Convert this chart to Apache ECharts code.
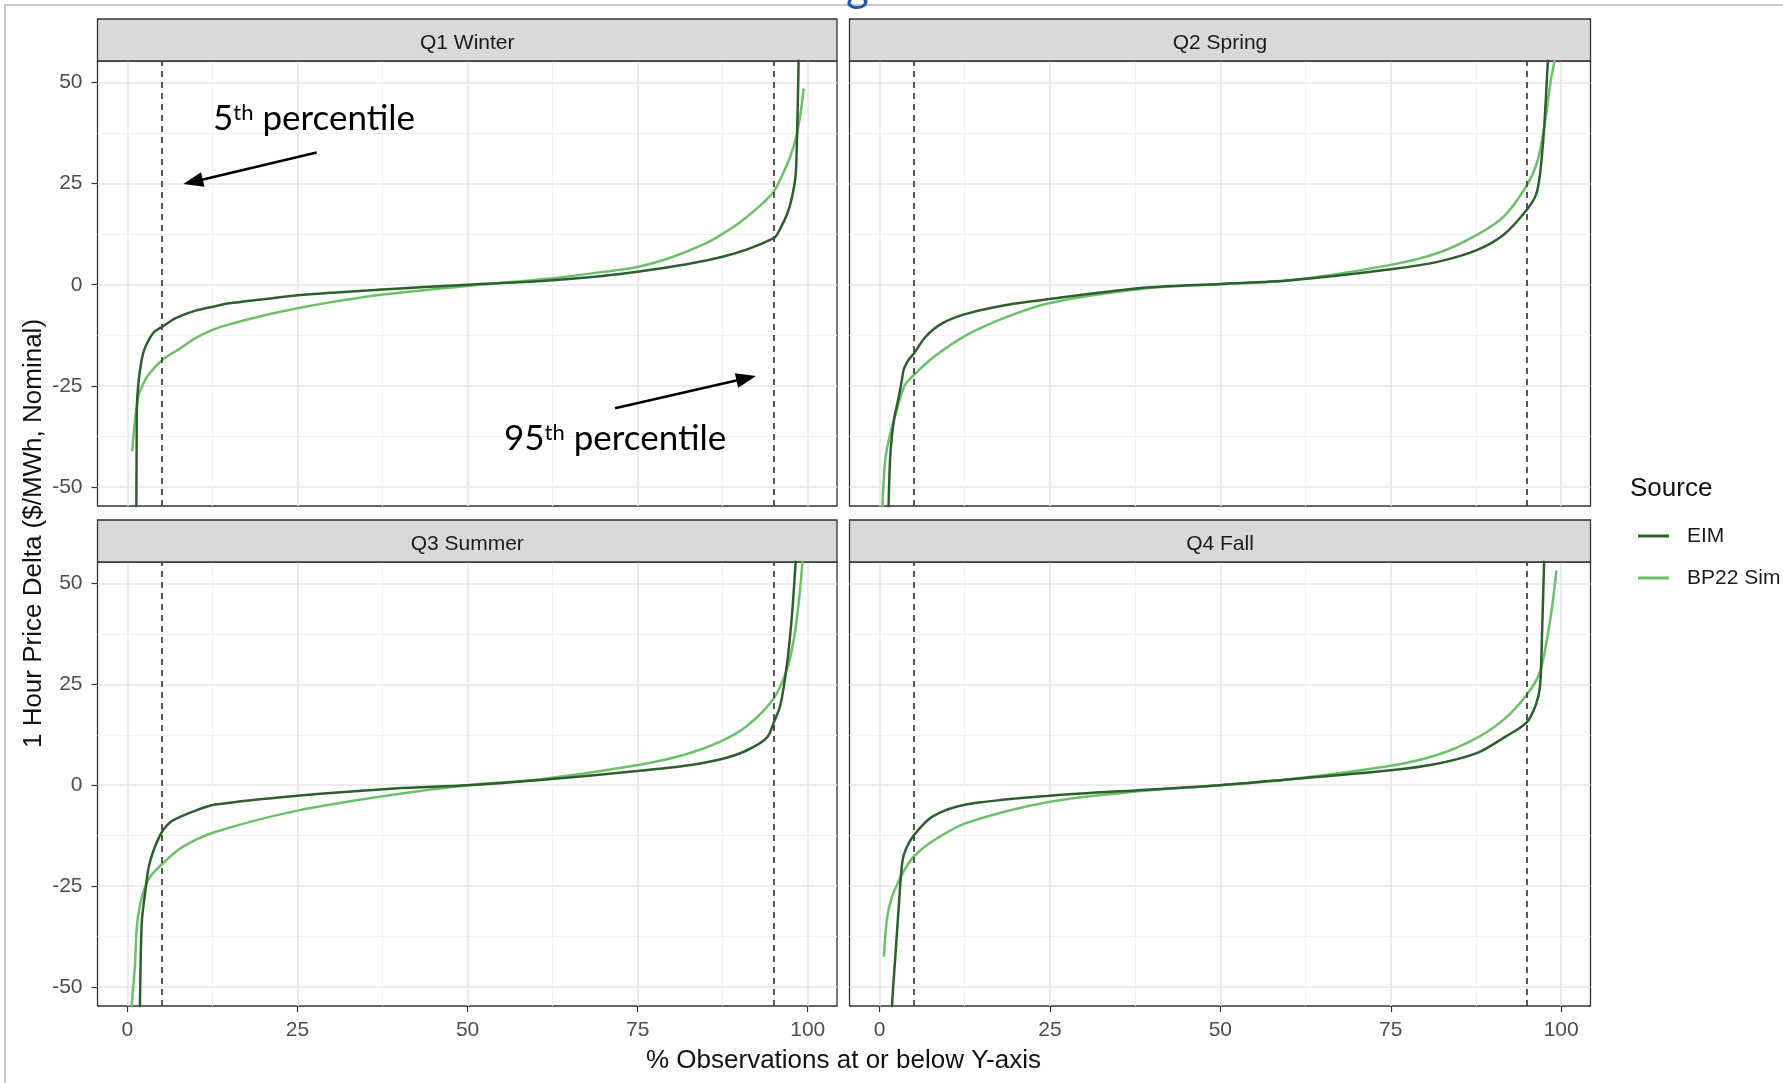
<!DOCTYPE html>
<html><head><meta charset="utf-8">
<script src="https://cdn.jsdelivr.net/npm/echarts@6/dist/echarts.min.js"></script>
<style>html,body{margin:0;padding:0;background:#fff;}#c{width:1783px;height:1083px;}</style>
</head><body><div id="c"></div>
<script>
// ---------- data ----------
const panels = ['Q1 Winter', 'Q2 Spring', 'Q3 Summer', 'Q4 Fall'];
const sources = ['EIM', 'BP22 Sim'];
const xMajorTicks = [0, 25, 50, 75, 100];
const xMinorTicks = [12.5, 37.5, 62.5, 87.5];
const yMajorTicks = [-50, -25, 0, 25, 50];
const yMinorTicks = [-37.5, -12.5, 12.5, 37.5];
const percentileLines = [5, 95];

const q1EimX  = [1.3, 1.35, 1.4, 1.6, 2.1, 2.6, 3.85, 5.3, 7, 10, 12.9, 15, 20, 25, 37.5, 50, 62.5, 75, 87.5, 95, 96, 97, 97.6, 98.2, 98.4, 98.6, 98.7];
const q1EimY  = [-60, -40, -30, -24.6, -18.5, -15.5, -11.8, -10.2, -8.3, -6.4, -5.3, -4.6, -3.6, -2.6, -1.2, 0, 1.1, 3.2, 6.9, 11.5, 14, 17.6, 21, 26.7, 35, 50, 60];
const q1SimX  = [0.7, 1.1, 1.6, 2.1, 3.06, 5.2, 7.7, 10, 12.8, 15, 20, 25, 30, 37.5, 50, 62.5, 70, 75, 80, 85, 87.5, 90, 92.5, 95, 96.5, 97.5, 98.4, 99, 99.4];
const q1SimY  = [-41.2, -33.6, -27.6, -25.3, -22.3, -18.5, -15.8, -13.2, -11.0, -9.8, -7.6, -5.8, -4.3, -2.4, -0.3, 1.6, 3.2, 4.4, 6.8, 10.2, 12.6, 15.4, 18.8, 23, 28, 32, 37.2, 43, 48.5];

const q2EimX  = [1.3, 1.37, 1.62, 2.1, 2.84, 3.33, 3.58, 4.3, 5.05, 6.8, 9.26, 12.7, 18.6, 25, 39.2, 50, 60.3, 75, 82, 87.7, 91.6, 94.9, 96.3, 96.9, 97.5, 98, 98.2];
const q2EimY  = [-60, -52, -41.2, -33.6, -27.6, -23.1, -20.8, -18.5, -17.0, -12.8, -9.5, -7.2, -5.0, -3.5, -0.7, 0.2, 1.1, 3.8, 5.7, 8.6, 12.4, 18.4, 22.2, 27.4, 38.8, 53.8, 60];
const q2SimX  = [0.35, 0.5, 0.88, 1.62, 2.35, 3.1, 3.8, 5.05, 7.75, 12.7, 18.6, 25, 39.2, 50, 60.3, 75, 82, 87.7, 91.6, 94.9, 96.5, 97.5, 98.5, 99, 99.2];
const q2SimY  = [-60, -52, -42.7, -36.6, -32.1, -27.6, -24.6, -22.3, -18.1, -12.5, -8.0, -4.5, -0.9, 0.1, 1.1, 4.9, 7.9, 12.4, 16.9, 24.4, 30.4, 38.8, 50.8, 55.3, 60];

const q3EimX  = [1.8, 1.84, 2.1, 2.6, 3.1, 3.85, 4.6, 5.3, 6.5, 10, 12.9, 25, 39.3, 50, 60.7, 74.9, 82, 87.4, 91, 94, 95, 96, 97, 97.7, 98.2, 98.4];
const q3EimY  = [-60, -53.8, -34.2, -26.7, -20.6, -16.1, -13.1, -11.0, -8.9, -6.3, -4.8, -2.6, -0.8, 0, 1.3, 3.5, 4.8, 6.5, 8.6, 11.8, 15.5, 20, 30.6, 42.6, 54.7, 60];
const q3SimX  = [0.5, 0.6, 1.1, 1.35, 1.84, 2.6, 3.56, 5.3, 8, 12.9, 25, 39.3, 50, 60.7, 74.9, 82, 87.4, 91, 95, 97, 98, 98.7, 99.2, 99.4];
const q3SimY  = [-60, -55, -44.8, -35.7, -29.7, -25.2, -22.2, -19.2, -15.4, -11.6, -6.3, -2.3, 0, 1.5, 4.95, 7.6, 11, 14.6, 21.5, 29, 36.6, 45.7, 54.7, 60];

const q4EimX  = [1.8, 1.86, 2.35, 2.84, 3.33, 3.8, 5.05, 7.75, 12.7, 25, 39.2, 50, 60.3, 75, 82, 87.7, 91.6, 94.9, 96.3, 96.9, 97.2, 97.5, 97.6];
const q4EimY  = [-60, -54, -41.8, -29.7, -19.2, -16.1, -12.4, -7.8, -4.8, -2.6, -1.1, 0, 1.5, 3.7, 5.4, 8, 11.8, 15.5, 20, 24.6, 38.1, 55.5, 60];
const q4SimX  = [0.64, 1.13, 1.86, 2.84, 3.8, 5.05, 7.75, 12.7, 25, 39.2, 50, 60.3, 75, 82, 87.7, 91.6, 94.9, 96.8, 97.8, 98.8, 99.3];
const q4SimY  = [-42.5, -32.7, -27.5, -23.7, -20.6, -17.6, -13.9, -9.4, -4.1, -1.3, 0, 1.5, 4.8, 7.6, 11.8, 16.3, 22.3, 27.6, 35.1, 45.7, 53.2];

const eimSeries = [[q1EimX, q1EimY], [q2EimX, q2EimY], [q3EimX, q3EimY], [q4EimX, q4EimY]];
const simSeries = [[q1SimX, q1SimY], [q2SimX, q2SimY], [q3SimX, q3SimY], [q4SimX, q4SimY]];

// ---------- layout / style ----------
const FONT = 'Liberation Sans';
const COL_EIM = '#2b602c';
const COL_SIM = '#6cc06a';
const grids = [
  { left: 97.5, top: 61, width: 739.5, height: 445 },
  { left: 849.5, top: 61, width: 741, height: 445 },
  { left: 97.5, top: 562, width: 739.5, height: 444 },
  { left: 849.5, top: 562, width: 741, height: 444 }
];
const X_MIN = -4.4, X_MAX = 104.3, Y_MIN = -54.7, Y_MAX = 55.3;

const zip = (xs, ys) => xs.map((x, i) => [x, ys[i]]);

const xAxes = [], yAxes = [], series = [];
grids.forEach((g, i) => {
  const bottomRow = i >= 2, leftCol = i % 2 === 0;
  xAxes.push({
    type: 'value', gridIndex: i, min: X_MIN, max: X_MAX, position: 'bottom',
    axisLine: { show: false, onZero: false },
    axisTick: { show: bottomRow, customValues: xMajorTicks, length: 6, lineStyle: { color: '#333', width: 1.2 } },
    axisLabel: { show: bottomRow, customValues: xMajorTicks, margin: 14, fontSize: 21, color: '#4d4d4d', fontFamily: FONT },
    splitLine: { show: true, lineStyle: { color: '#e6e6e6', width: 1.6 } }
  });
  xAxes.push({
    type: 'value', gridIndex: i, min: X_MIN, max: X_MAX, position: 'top',
    axisLine: { show: false, onZero: false },
    axisTick: { show: false, customValues: xMinorTicks },
    axisLabel: { show: false, customValues: xMinorTicks },
    splitLine: { show: true, lineStyle: { color: '#f2f2f2', width: 1 } }
  });
  yAxes.push({
    type: 'value', gridIndex: i, min: Y_MIN, max: Y_MAX, position: 'left',
    axisLine: { show: false, onZero: false },
    axisTick: { show: leftCol, customValues: yMajorTicks, length: 6, lineStyle: { color: '#333', width: 1.2 } },
    axisLabel: { show: leftCol, customValues: yMajorTicks, margin: 15, fontSize: 21, color: '#4d4d4d', fontFamily: FONT },
    splitLine: { show: true, lineStyle: { color: '#e6e6e6', width: 1.6 } }
  });
  yAxes.push({
    type: 'value', gridIndex: i, min: Y_MIN, max: Y_MAX, position: 'right',
    axisLine: { show: false, onZero: false },
    axisTick: { show: false, customValues: yMinorTicks },
    axisLabel: { show: false, customValues: yMinorTicks },
    splitLine: { show: true, lineStyle: { color: '#f2f2f2', width: 1 } }
  });
  series.push({
    name: sources[0], type: 'line', xAxisIndex: 2 * i, yAxisIndex: 2 * i,
    data: zip(eimSeries[i][0], eimSeries[i][1]), showSymbol: false, smooth: 0.3, clip: true,
    lineStyle: { color: COL_EIM, width: 2.5 }, itemStyle: { color: COL_EIM }, z: 4,
    markLine: {
      silent: true, symbol: ['none', 'none'], label: { show: false }, z: 6,
      lineStyle: { type: [6, 5], color: '#454545', width: 1.8 },
      data: percentileLines.map(v => ({ xAxis: v }))
    }
  });
  series.push({
    name: sources[1], type: 'line', xAxisIndex: 2 * i, yAxisIndex: 2 * i,
    data: zip(simSeries[i][0], simSeries[i][1]), showSymbol: false, smooth: 0.3, clip: true,
    lineStyle: { color: COL_SIM, width: 2.5 }, itemStyle: { color: COL_SIM }, z: 3
  });
});

// ---------- annotations / decorations ----------
function arrow(x1, y1, x2, y2) {
  const a = Math.atan2(y2 - y1, x2 - x1), L = 20, W = 7.5;
  const bx = x2 - L * Math.cos(a), by = y2 - L * Math.sin(a);
  const px = -Math.sin(a), py = Math.cos(a);
  return [
    { type: 'line', z: 100, silent: true, shape: { x1: x1, y1: y1, x2: bx + 2 * Math.cos(a), y2: by + 2 * Math.sin(a) }, style: { stroke: '#000', lineWidth: 2.6 } },
    { type: 'polygon', z: 100, silent: true, shape: { points: [[x2, y2], [bx + W * px, by + W * py], [bx - W * px, by - W * py]] }, style: { fill: '#000' } }
  ];
}
const graphics = [];
graphics.push({ type: 'polyline', silent: true, z: 0, shape: { points: [[5, 1090], [5, 5], [1790, 5]] }, style: { stroke: '#c8c8c8', lineWidth: 2, fill: null } });
graphics.push({ type: 'text', silent: true, z: 0, x: 846, y: 9, style: { text: 'g', fontSize: 44, fontFamily: 'Lato', fill: '#1c5aa8', verticalAlign: 'bottom', align: 'left' } });
grids.forEach((g, i) => {
  graphics.push({ type: 'rect', silent: true, z: 1, shape: { x: g.left, y: g.top - 42, width: g.width, height: 42 }, style: { fill: '#d9d9d9', stroke: '#333', lineWidth: 1.3 } });
  graphics.push({ type: 'text', silent: true, z: 2, x: g.left + g.width / 2, y: g.top - 18, style: { text: panels[i], fontSize: 21, fontFamily: FONT, fill: '#1a1a1a', align: 'center', verticalAlign: 'middle' } });
});
graphics.push({ type: 'text', silent: true, z: 2, x: 34, y: 533.5, rotation: Math.PI / 2, style: { text: '1 Hour Price Delta ($/MWh, Nominal)', fontSize: 26, fontFamily: FONT, fill: '#111', align: 'center', verticalAlign: 'middle' } });
graphics.push({ type: 'text', silent: true, z: 2, x: 843.5, y: 1061, style: { text: '% Observations at or below Y-axis', fontSize: 26, fontFamily: FONT, fill: '#111', align: 'center', verticalAlign: 'middle' } });
graphics.push({ type: 'text', silent: true, z: 2, x: 1630, y: 489, style: { text: 'Source', fontSize: 26, fontFamily: FONT, fill: '#111', align: 'left', verticalAlign: 'middle' } });
const richAnn = { a: { fontSize: 35, fontFamily: 'Lato', fill: '#000' }, s: { fontSize: 22, fontFamily: 'Lato', fill: '#000', verticalAlign: 'top' } };
graphics.push({ type: 'text', silent: true, z: 100, x: 213, y: 119, style: { text: '{a|5}{s|th}{a| percentile}', rich: richAnn, align: 'left', verticalAlign: 'middle' } });
graphics.push({ type: 'text', silent: true, z: 100, x: 504, y: 439, style: { text: '{a|95}{s|th}{a| percentile}', rich: richAnn, align: 'left', verticalAlign: 'middle' } });
arrow(316.7, 152.4, 183.3, 184.1).forEach(e => graphics.push(e));
arrow(615, 408.2, 756, 376).forEach(e => graphics.push(e));

const chart = echarts.init(document.getElementById('c'), null, { renderer: 'canvas' });
chart.setOption({
  animation: false,
  backgroundColor: '#fff',
  textStyle: { fontFamily: FONT },
  grid: grids.map(g => Object.assign({ show: true, borderColor: '#333', borderWidth: 1.3, backgroundColor: 'transparent', containLabel: false }, g)),
  xAxis: xAxes,
  yAxis: yAxes,
  legend: {
    data: sources, orient: 'vertical', left: 1633, top: 520, icon: 'rect', itemWidth: 31, itemHeight: 3, itemGap: 20,
    selectedMode: false,
    textStyle: { fontSize: 21, color: '#1a1a1a', fontFamily: FONT, lineHeight: 22, padding: [0, 0, 0, 13] }
  },
  series: series,
  graphic: graphics
});
</script>
</body></html>
